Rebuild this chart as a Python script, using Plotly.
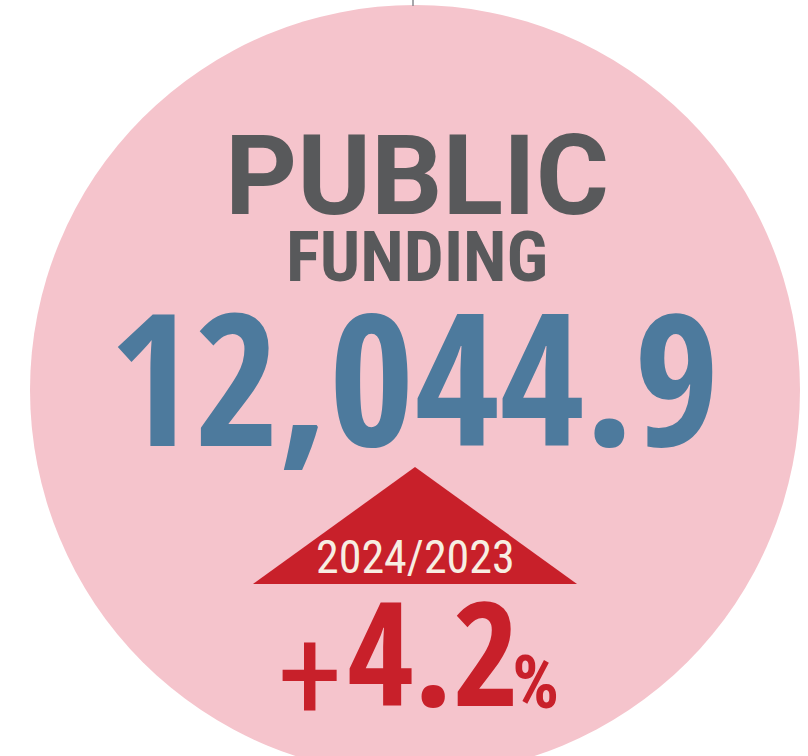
import plotly.graph_objects as go

# ---- data ----
title_lines = ["PUBLIC", "FUNDING"]
funding_value = [12044.9]
change_pct = [4.2]
period_label = ["2024/2023"]

W, H = 808, 756
PINK = "#f5c4cc"
GRAY = "#58595b"
BLUE = "#4d7a9d"
RED = "#c8202a"
CREAM = "#f7eee2"

fig = go.Figure()

# up-arrow triangle
fig.add_trace(go.Scatter(
    x=[253, 415, 577, 253], y=[584, 467, 584, 584],
    mode="lines", fill="toself", fillcolor=RED,
    line=dict(color=RED, width=0), hoverinfo="skip", showlegend=False,
))

shapes = [
    dict(type="circle", xref="x", yref="y", x0=30, x1=800, y0=5, y1=775,
         fillcolor=PINK, line=dict(width=0), layer="below"),
    dict(type="line", xref="x", yref="y", x0=413, x1=413, y0=0, y1=6,
         line=dict(color="#8a8a8f", width=1.5), layer="below"),
]

RC = "Roboto Condensed"
OC = "Open Sans Condensed"
sign = "+" if change_pct[0] >= 0 else "−"
annotations = [
    dict(x=417, y=213, text=f"<b>{title_lines[0]}</b>", showarrow=False,
         xanchor="center", yanchor="bottom", yshift=-30,
         font=dict(family="Roboto", size=112, color=GRAY)),
    dict(x=417, y=280, text=f"<b>{title_lines[1]}</b>", showarrow=False,
         xanchor="center", yanchor="bottom", yshift=-20,
         font=dict(family=RC, size=71, color=GRAY)),
    dict(x=414, y=447, text=f"<b>{funding_value[0]:,.1f}</b>", showarrow=False,
         xanchor="center", yanchor="bottom", yshift=-55,
         font=dict(family=OC, size=184, color=BLUE)),
    dict(x=415, y=575, text=period_label[0], showarrow=False,
         xanchor="center", yanchor="bottom", yshift=-11,
         font=dict(family=RC, size=46, color=CREAM)),
    dict(x=310, y=718, text=sign, showarrow=False,
         xanchor="center", yanchor="bottom", yshift=-36,
         font=dict(family=RC, size=132, color=RED)),
    dict(x=433, y=707, text=f"<b>{abs(change_pct[0]):.1f}</b>", showarrow=False,
         xanchor="center", yanchor="bottom", yshift=-43,
         font=dict(family=OC, size=144, color=RED)),
    dict(x=535, y=707, text="<b>%</b>", showarrow=False,
         xanchor="center", yanchor="bottom", yshift=-21,
         font=dict(family=RC, size=74, color=RED)),
]

fig.update_layout(
    width=W, height=H,
    margin=dict(l=0, r=0, t=0, b=0),
    paper_bgcolor="white", plot_bgcolor="white",
    xaxis=dict(range=[0, W], visible=False, fixedrange=True),
    yaxis=dict(range=[H, 0], visible=False, fixedrange=True),
    shapes=shapes, annotations=annotations, showlegend=False,
)

fig.write_html("out.html", config={"displayModeBar": False},
               post_script="document.body.style.margin='0';")
